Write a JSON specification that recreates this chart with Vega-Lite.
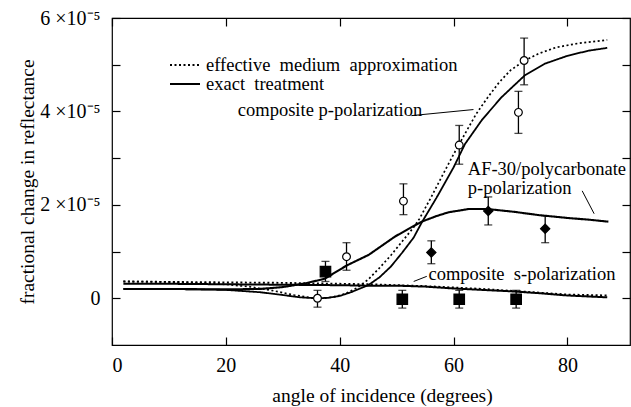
{
  "$schema": "https://vega.github.io/schema/vega-lite/v6.json",
  "width": 518,
  "height": 327,
  "autosize": {"type": "none"},
  "padding": {"left": 112, "top": 18, "right": 1, "bottom": 62},
  "background": "white",
  "config": {
    "view": {"stroke": "black", "strokeWidth": 1.2},
    "font": "Liberation Serif",
    "axis": {
      "domain": false,
      "grid": false,
      "tickColor": "black",
      "tickSize": -8,
      "tickWidth": 1.2,
      "labelFont": "Liberation Serif",
      "labelFontSize": 20,
      "labelColor": "black",
      "titleFont": "Liberation Serif",
      "titleFontSize": 19.5,
      "titleFontWeight": "normal",
      "titleColor": "black"
    },
    "legend": {
      "labelFont": "Liberation Serif",
      "labelFontSize": 18.5,
      "labelColor": "black"
    }
  },
  "datasets": {
    "curves": [
      {"series": "p_ema", "method": "effective medium approximation", "angle": 2, "value": 0.36e-5},
      {"series": "p_ema", "method": "effective medium approximation", "angle": 10, "value": 0.35e-5},
      {"series": "p_ema", "method": "effective medium approximation", "angle": 18, "value": 0.32e-5},
      {"series": "p_ema", "method": "effective medium approximation", "angle": 24, "value": 0.25e-5},
      {"series": "p_ema", "method": "effective medium approximation", "angle": 28, "value": 0.17e-5},
      {"series": "p_ema", "method": "effective medium approximation", "angle": 32, "value": 0.07e-5},
      {"series": "p_ema", "method": "effective medium approximation", "angle": 35, "value": 0.01e-5},
      {"series": "p_ema", "method": "effective medium approximation", "angle": 37, "value": 0.0},
      {"series": "p_ema", "method": "effective medium approximation", "angle": 39, "value": 0.03e-5},
      {"series": "p_ema", "method": "effective medium approximation", "angle": 41, "value": 0.1e-5},
      {"series": "p_ema", "method": "effective medium approximation", "angle": 43, "value": 0.22e-5},
      {"series": "p_ema", "method": "effective medium approximation", "angle": 45, "value": 0.4e-5},
      {"series": "p_ema", "method": "effective medium approximation", "angle": 47, "value": 0.65e-5},
      {"series": "p_ema", "method": "effective medium approximation", "angle": 49, "value": 0.92e-5},
      {"series": "p_ema", "method": "effective medium approximation", "angle": 51, "value": 1.22e-5},
      {"series": "p_ema", "method": "effective medium approximation", "angle": 53, "value": 1.52e-5},
      {"series": "p_ema", "method": "effective medium approximation", "angle": 54, "value": 1.7e-5},
      {"series": "p_ema", "method": "effective medium approximation", "angle": 56, "value": 2.15e-5},
      {"series": "p_ema", "method": "effective medium approximation", "angle": 58, "value": 2.62e-5},
      {"series": "p_ema", "method": "effective medium approximation", "angle": 60, "value": 3.08e-5},
      {"series": "p_ema", "method": "effective medium approximation", "angle": 62, "value": 3.52e-5},
      {"series": "p_ema", "method": "effective medium approximation", "angle": 64, "value": 3.95e-5},
      {"series": "p_ema", "method": "effective medium approximation", "angle": 66, "value": 4.3e-5},
      {"series": "p_ema", "method": "effective medium approximation", "angle": 68, "value": 4.62e-5},
      {"series": "p_ema", "method": "effective medium approximation", "angle": 70, "value": 4.88e-5},
      {"series": "p_ema", "method": "effective medium approximation", "angle": 72.5, "value": 5.09e-5},
      {"series": "p_ema", "method": "effective medium approximation", "angle": 75, "value": 5.24e-5},
      {"series": "p_ema", "method": "effective medium approximation", "angle": 78, "value": 5.37e-5},
      {"series": "p_ema", "method": "effective medium approximation", "angle": 82, "value": 5.46e-5},
      {"series": "p_ema", "method": "effective medium approximation", "angle": 87, "value": 5.53e-5},

      {"series": "p_exact", "method": "exact treatment", "angle": 2, "value": 0.2e-5},
      {"series": "p_exact", "method": "exact treatment", "angle": 10, "value": 0.2e-5},
      {"series": "p_exact", "method": "exact treatment", "angle": 20, "value": 0.18e-5},
      {"series": "p_exact", "method": "exact treatment", "angle": 26, "value": 0.13e-5},
      {"series": "p_exact", "method": "exact treatment", "angle": 30, "value": 0.07e-5},
      {"series": "p_exact", "method": "exact treatment", "angle": 33, "value": 0.02e-5},
      {"series": "p_exact", "method": "exact treatment", "angle": 36, "value": 0.0},
      {"series": "p_exact", "method": "exact treatment", "angle": 38, "value": 0.01e-5},
      {"series": "p_exact", "method": "exact treatment", "angle": 40, "value": 0.05e-5},
      {"series": "p_exact", "method": "exact treatment", "angle": 42, "value": 0.13e-5},
      {"series": "p_exact", "method": "exact treatment", "angle": 45, "value": 0.28e-5},
      {"series": "p_exact", "method": "exact treatment", "angle": 47, "value": 0.45e-5},
      {"series": "p_exact", "method": "exact treatment", "angle": 49, "value": 0.68e-5},
      {"series": "p_exact", "method": "exact treatment", "angle": 51, "value": 0.98e-5},
      {"series": "p_exact", "method": "exact treatment", "angle": 53, "value": 1.3e-5},
      {"series": "p_exact", "method": "exact treatment", "angle": 54.4, "value": 1.62e-5},
      {"series": "p_exact", "method": "exact treatment", "angle": 57, "value": 2.15e-5},
      {"series": "p_exact", "method": "exact treatment", "angle": 60, "value": 2.8e-5},
      {"series": "p_exact", "method": "exact treatment", "angle": 62, "value": 3.3e-5},
      {"series": "p_exact", "method": "exact treatment", "angle": 65, "value": 3.82e-5},
      {"series": "p_exact", "method": "exact treatment", "angle": 68.4, "value": 4.3e-5},
      {"series": "p_exact", "method": "exact treatment", "angle": 72.5, "value": 4.77e-5},
      {"series": "p_exact", "method": "exact treatment", "angle": 76, "value": 5.02e-5},
      {"series": "p_exact", "method": "exact treatment", "angle": 80, "value": 5.19e-5},
      {"series": "p_exact", "method": "exact treatment", "angle": 83.7, "value": 5.3e-5},
      {"series": "p_exact", "method": "exact treatment", "angle": 87, "value": 5.36e-5},

      {"series": "s_ema", "method": "effective medium approximation", "angle": 2, "value": 0.36e-5},
      {"series": "s_ema", "method": "effective medium approximation", "angle": 10, "value": 0.35e-5},
      {"series": "s_ema", "method": "effective medium approximation", "angle": 20, "value": 0.34e-5},
      {"series": "s_ema", "method": "effective medium approximation", "angle": 30, "value": 0.33e-5},
      {"series": "s_ema", "method": "effective medium approximation", "angle": 40, "value": 0.31e-5},
      {"series": "s_ema", "method": "effective medium approximation", "angle": 45, "value": 0.3e-5},
      {"series": "s_ema", "method": "effective medium approximation", "angle": 50, "value": 0.28e-5},
      {"series": "s_ema", "method": "effective medium approximation", "angle": 55, "value": 0.26e-5},
      {"series": "s_ema", "method": "effective medium approximation", "angle": 60, "value": 0.23e-5},
      {"series": "s_ema", "method": "effective medium approximation", "angle": 65, "value": 0.2e-5},
      {"series": "s_ema", "method": "effective medium approximation", "angle": 70, "value": 0.16e-5},
      {"series": "s_ema", "method": "effective medium approximation", "angle": 75, "value": 0.12e-5},
      {"series": "s_ema", "method": "effective medium approximation", "angle": 80, "value": 0.08e-5},
      {"series": "s_ema", "method": "effective medium approximation", "angle": 87, "value": 0.06e-5},

      {"series": "s_exact", "method": "exact treatment", "angle": 2, "value": 0.31e-5},
      {"series": "s_exact", "method": "exact treatment", "angle": 10, "value": 0.31e-5},
      {"series": "s_exact", "method": "exact treatment", "angle": 20, "value": 0.3e-5},
      {"series": "s_exact", "method": "exact treatment", "angle": 30, "value": 0.29e-5},
      {"series": "s_exact", "method": "exact treatment", "angle": 40, "value": 0.28e-5},
      {"series": "s_exact", "method": "exact treatment", "angle": 45, "value": 0.27e-5},
      {"series": "s_exact", "method": "exact treatment", "angle": 50, "value": 0.27e-5},
      {"series": "s_exact", "method": "exact treatment", "angle": 55, "value": 0.25e-5},
      {"series": "s_exact", "method": "exact treatment", "angle": 60, "value": 0.21e-5},
      {"series": "s_exact", "method": "exact treatment", "angle": 65, "value": 0.18e-5},
      {"series": "s_exact", "method": "exact treatment", "angle": 70, "value": 0.15e-5},
      {"series": "s_exact", "method": "exact treatment", "angle": 75, "value": 0.11e-5},
      {"series": "s_exact", "method": "exact treatment", "angle": 80, "value": 0.06e-5},
      {"series": "s_exact", "method": "exact treatment", "angle": 87, "value": 0.02e-5},

      {"series": "af30", "method": "exact treatment", "angle": 2, "value": 0.2e-5},
      {"series": "af30", "method": "exact treatment", "angle": 10, "value": 0.2e-5},
      {"series": "af30", "method": "exact treatment", "angle": 20, "value": 0.19e-5},
      {"series": "af30", "method": "exact treatment", "angle": 26, "value": 0.2e-5},
      {"series": "af30", "method": "exact treatment", "angle": 30, "value": 0.24e-5},
      {"series": "af30", "method": "exact treatment", "angle": 34, "value": 0.32e-5},
      {"series": "af30", "method": "exact treatment", "angle": 37.4, "value": 0.42e-5},
      {"series": "af30", "method": "exact treatment", "angle": 41.2, "value": 0.7e-5},
      {"series": "af30", "method": "exact treatment", "angle": 45.1, "value": 0.93e-5},
      {"series": "af30", "method": "exact treatment", "angle": 49.7, "value": 1.32e-5},
      {"series": "af30", "method": "exact treatment", "angle": 52, "value": 1.48e-5},
      {"series": "af30", "method": "exact treatment", "angle": 54.4, "value": 1.64e-5},
      {"series": "af30", "method": "exact treatment", "angle": 57, "value": 1.76e-5},
      {"series": "af30", "method": "exact treatment", "angle": 59.1, "value": 1.84e-5},
      {"series": "af30", "method": "exact treatment", "angle": 62.6, "value": 1.91e-5},
      {"series": "af30", "method": "exact treatment", "angle": 66, "value": 1.91e-5},
      {"series": "af30", "method": "exact treatment", "angle": 70.7, "value": 1.85e-5},
      {"series": "af30", "method": "exact treatment", "angle": 75, "value": 1.78e-5},
      {"series": "af30", "method": "exact treatment", "angle": 80, "value": 1.72e-5},
      {"series": "af30", "method": "exact treatment", "angle": 84, "value": 1.68e-5},
      {"series": "af30", "method": "exact treatment", "angle": 87.2, "value": 1.64e-5}
    ],
    "points": [
      {"kind": "composite p", "angle": 36.1, "value": 0.0, "lo": -0.19e-5, "hi": 0.17e-5},
      {"kind": "composite p", "angle": 41.2, "value": 0.89e-5, "lo": 0.6e-5, "hi": 1.19e-5},
      {"kind": "composite p", "angle": 51.2, "value": 2.08e-5, "lo": 1.79e-5, "hi": 2.45e-5},
      {"kind": "composite p", "angle": 61.0, "value": 3.28e-5, "lo": 2.87e-5, "hi": 3.7e-5},
      {"kind": "composite p", "angle": 71.4, "value": 3.98e-5, "lo": 3.53e-5, "hi": 4.43e-5},
      {"kind": "composite p", "angle": 72.4, "value": 5.09e-5, "lo": 4.57e-5, "hi": 5.57e-5},
      {"kind": "AF-30 p", "angle": 56.1, "value": 0.98e-5, "lo": 0.74e-5, "hi": 1.23e-5},
      {"kind": "AF-30 p", "angle": 66.1, "value": 1.87e-5, "lo": 1.57e-5, "hi": 2.17e-5},
      {"kind": "AF-30 p", "angle": 76.1, "value": 1.49e-5, "lo": 1.19e-5, "hi": 1.77e-5},
      {"kind": "composite s", "angle": 37.5, "value": 0.57e-5, "lo": 0.36e-5, "hi": 0.79e-5},
      {"kind": "composite s", "angle": 51.0, "value": -0.02e-5, "lo": -0.21e-5, "hi": 0.17e-5},
      {"kind": "composite s", "angle": 61.0, "value": -0.02e-5, "lo": -0.21e-5, "hi": 0.17e-5},
      {"kind": "composite s", "angle": 71.0, "value": -0.02e-5, "lo": -0.21e-5, "hi": 0.17e-5}
    ],
    "notes": [
      {"label": "composite p-polarization", "angle": 22.1, "value": 4.02e-5},
      {"label": "AF-30/polycarbonate", "angle": 62.5, "value": 2.77e-5},
      {"label": "p-polarization", "angle": 62.5, "value": 2.36e-5},
      {"label": "composite\u00a0 s-polarization", "angle": 55.6, "value": 0.53e-5}
    ],
    "leaders": [
      {"angle": 52.6, "value": 3.91e-5, "angle2": 63.5, "value2": 4.04e-5},
      {"angle": 82.6, "value": 2.3e-5, "angle2": 84.7, "value2": 1.81e-5},
      {"angle": 53.0, "value": 0.36e-5, "angle2": 55.3, "value2": 0.47e-5}
    ]
  },
  "resolve": {"axis": {"x": "independent", "y": "independent"}},
  "layer": [
    {
      "data": {"name": "curves"},
      "mark": {"type": "line", "color": "black", "clip": true},
      "encoding": {
        "x": {
          "field": "angle", "type": "quantitative",
          "scale": {"domain": [0, 91], "nice": false, "zero": false},
          "axis": {"orient": "bottom", "values": [0, 20, 40, 60, 80], "title": "angle of incidence (degrees)", "labelPadding": 18, "titlePadding": 11, "titleX": 270}
        },
        "y": {
          "field": "value", "type": "quantitative",
          "scale": {"domain": [-1e-5, 6e-5], "nice": false, "zero": false},
          "axis": {
            "orient": "left",
            "values": [0, 1e-5, 2e-5, 3e-5, 4e-5, 5e-5, 6e-5],
            "labelExpr": "round(datum.value * 1e5) == 0 ? '0' : (round(datum.value * 1e5) % 2 == 0 ? round(datum.value * 1e5) + ' ×10⁻⁵' : '')",
            "title": "fractional change in reflectance",
            "labelPadding": 20,
            "titlePadding": 2
          }
        },
        "detail": {"field": "series"},
        "strokeDash": {
          "field": "method", "type": "nominal",
          "scale": {"domain": ["effective medium approximation", "exact treatment"], "range": [[2, 2.5], [1, 0]]},
          "legend": {
            "orient": "none", "legendX": 57, "legendY": 40,
            "title": null, "symbolType": "stroke", "symbolSize": 900,
            "symbolStrokeWidth": 2, "symbolStrokeColor": "black",
            "labelOffset": 5, "rowPadding": 0, "clipHeight": 14, "labelLimit": 400, "padding": 0,
            "labelExpr": "datum.label == 'exact treatment' ? 'exact\u00a0 treatment' : 'effective\u00a0 medium\u00a0 approximation'"
          }
        },
        "strokeWidth": {
          "field": "series", "type": "nominal",
          "scale": {"domain": ["p_ema", "p_exact", "s_ema", "s_exact", "af30"], "range": [1.7, 2.1, 1.5, 1.3, 1.4]},
          "legend": null
        }
      }
    },
    {
      "data": {"name": "points"},
      "mark": {"type": "rule", "color": "black", "strokeWidth": 1.3},
      "encoding": {
        "x": {"field": "angle", "type": "quantitative", "axis": null},
        "y": {"field": "lo", "type": "quantitative", "axis": null},
        "y2": {"field": "hi"}
      }
    },
    {
      "data": {"name": "points"},
      "mark": {"type": "tick", "color": "black", "orient": "horizontal", "size": 8, "thickness": 1.3},
      "encoding": {
        "x": {"field": "angle", "type": "quantitative", "axis": null},
        "y": {"field": "lo", "type": "quantitative", "axis": null}
      }
    },
    {
      "data": {"name": "points"},
      "mark": {"type": "tick", "color": "black", "orient": "horizontal", "size": 8, "thickness": 1.3},
      "encoding": {
        "x": {"field": "angle", "type": "quantitative", "axis": null},
        "y": {"field": "hi", "type": "quantitative", "axis": null}
      }
    },
    {
      "data": {"name": "points"},
      "mark": {"type": "point", "filled": true, "stroke": "black", "strokeWidth": 1.2, "opacity": 1},
      "encoding": {
        "x": {"field": "angle", "type": "quantitative", "axis": null},
        "y": {"field": "value", "type": "quantitative", "axis": null},
        "shape": {"field": "kind", "type": "nominal", "scale": {"domain": ["composite p", "AF-30 p", "composite s"], "range": ["circle", "diamond", "square"]}, "legend": null},
        "fill": {"field": "kind", "type": "nominal", "scale": {"domain": ["composite p", "AF-30 p", "composite s"], "range": ["white", "black", "black"]}, "legend": null},
        "size": {"field": "kind", "type": "nominal", "scale": {"domain": ["composite p", "AF-30 p", "composite s"], "range": [60, 110, 80]}, "legend": null}
      }
    },
    {
      "data": {"name": "leaders"},
      "mark": {"type": "rule", "color": "black", "strokeWidth": 1},
      "encoding": {
        "x": {"field": "angle", "type": "quantitative", "axis": {"orient": "top", "values": [0, 20, 40, 60, 80], "labels": false, "title": null}},
        "y": {"field": "value", "type": "quantitative", "axis": {"orient": "right", "values": [0, 1e-5, 2e-5, 3e-5, 4e-5, 5e-5, 6e-5], "labels": false, "title": null}},
        "x2": {"field": "angle2"},
        "y2": {"field": "value2"}
      }
    },
    {
      "data": {"name": "notes"},
      "mark": {"type": "text", "align": "left", "baseline": "middle", "fontSize": 18.5, "font": "Liberation Serif", "color": "black"},
      "encoding": {
        "x": {"field": "angle", "type": "quantitative", "axis": null},
        "y": {"field": "value", "type": "quantitative", "axis": null},
        "text": {"field": "label"}
      }
    }
  ]
}
